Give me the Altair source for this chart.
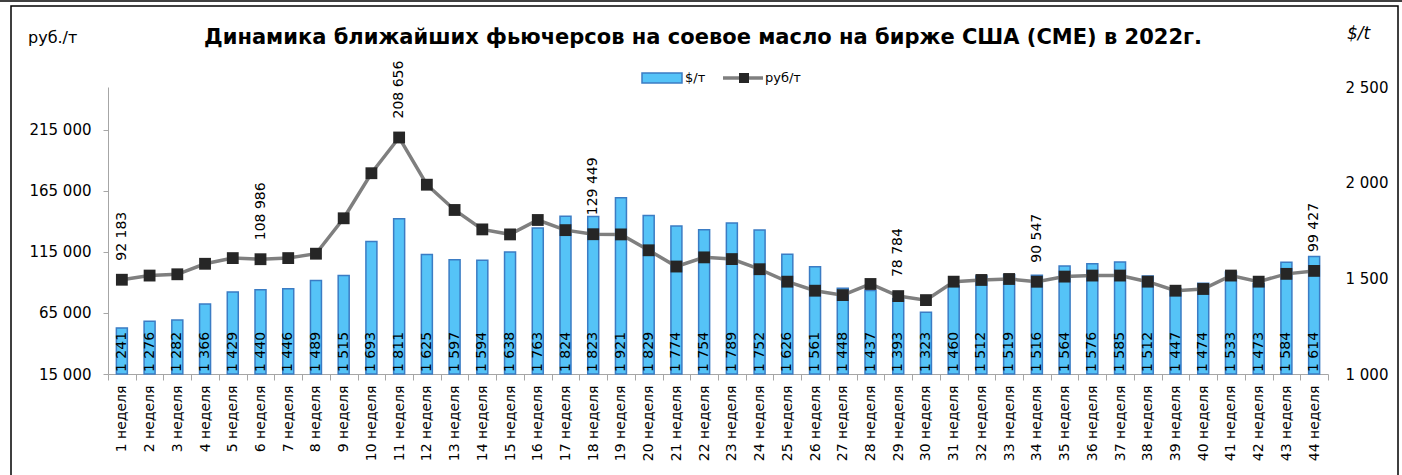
import altair as alt
import pandas as pd

weeks = [f"{i} неделя" for i in range(1, 45)]
usd = [1241, 1276, 1282, 1366, 1429, 1440, 1446, 1489, 1515, 1693, 1811, 1625, 1597, 1594,
       1638, 1763, 1824, 1823, 1921, 1829, 1774, 1754, 1789, 1752, 1626, 1561, 1448, 1437,
       1393, 1323, 1460, 1512, 1519, 1516, 1564, 1576, 1585, 1512, 1447, 1474, 1533, 1473,
       1584, 1614]
rub = [92183, 95600, 96650, 105250, 109900, 108986, 109900, 113500, 142500, 179400, 208656,
       170000, 149300, 133400, 129300, 141100, 132800, 129449, 129300, 116300, 103000, 110500,
       109100, 100800, 90600, 83200, 79600, 88700, 78784, 75500, 90600, 92000, 92800, 90547,
       94750, 95600, 95600, 90600, 83200, 84600, 95600, 90600, 97000, 99427]
rub_labeled = [1, 6, 11, 18, 29, 34, 44]
left_ticks = [15000, 65000, 115000, 165000, 215000]
right_ticks = [1000, 1500, 2000, 2500]
title_text = "Динамика ближайших фьючерсов на соевое масло на бирже США (CME) в 2022г."

df = pd.DataFrame({
    "week": weeks,
    "n": list(range(1, 45)),
    "usd": usd,
    "rub": rub,
})
df["usd_lbl"] = [f"{v:,}".replace(",", " ") for v in usd]
df["rub_lbl"] = [f"{v:,}".replace(",", " ") for v in rub]

W, H = 1220, 287
PL, PT = 108, 87
BAR_FILL = "#55C3F7"
BAR_STROKE = "#3B7CC4"
LINE_COLOR = "#7F7F7F"
MARK_COLOR = "#262626"
FONT = "DejaVu Sans"
fmt_expr = "replace(format(datum.value, ','), ',', ' ')"

xenc = alt.X("week:N", sort=weeks,
             scale=alt.Scale(type="band", paddingInner=0, paddingOuter=0),
             axis=alt.Axis(title=None, labelAngle=270, labelFontSize=14, labelColor="#000000",
                           labelFont=FONT, tickBand="extent", tickSize=6, tickColor="#A6A6A6",
                           domainColor="#A6A6A6", labelPadding=5, grid=False))
xenc_plain = alt.X("week:N", sort=weeks,
                   scale=alt.Scale(type="band", paddingInner=0, paddingOuter=0))

rdom = alt.Scale(domain=[1000, 2500], nice=False, zero=False)
ldom = alt.Scale(domain=[15000, 250000], nice=False, zero=False)

base = alt.Chart(df)

bars = base.mark_bar(size=11, fill=BAR_FILL, stroke=BAR_STROKE, strokeWidth=1.5).encode(
    x=xenc,
    y=alt.Y("usd:Q", scale=rdom,
            axis=alt.Axis(orient="right", title=None, values=right_ticks, labelExpr=fmt_expr,
                          domain=False, ticks=False, labelPadding=17, labelFontSize=15,
                          labelColor="#000000", labelFont=FONT, grid=False, labelAlign="left")),
    y2=alt.datum(1000),
)

bar_labels = base.mark_text(angle=270, align="left", baseline="middle", dx=2, fontSize=14,
                            font=FONT, color="#000000").encode(
    x=xenc_plain,
    y=alt.value(H),
    text="usd_lbl:N",
)

line = base.mark_line(color=LINE_COLOR, strokeWidth=3.5).encode(
    x=xenc_plain,
    y=alt.Y("rub:Q", scale=ldom,
            axis=alt.Axis(orient="left", title=None, values=left_ticks, labelExpr=fmt_expr,
                          tickSize=5, tickColor="#A6A6A6", domainColor="#A6A6A6",
                          labelPadding=12, labelFontSize=15, labelColor="#000000",
                          labelFont=FONT, grid=False)),
)

points = base.mark_point(shape="square", filled=True, size=140, color=MARK_COLOR, opacity=1).encode(
    x=xenc_plain,
    y=alt.Y("rub:Q", scale=ldom, axis=None),
)

line_labels = base.transform_filter(
    alt.FieldOneOfPredicate(field="n", oneOf=rub_labeled)
).mark_text(angle=270, align="left", baseline="middle", dx=19, fontSize=14, font=FONT,
            color="#000000").encode(
    x=xenc_plain,
    y=alt.Y("rub:Q", scale=ldom, axis=None),
    text="rub_lbl:N",
)

one = pd.DataFrame({"k": [0]})
deco = alt.Chart(one)

border = deco.mark_rect(fillOpacity=0, stroke="#000000", strokeWidth=1.5).encode(
    x=alt.value(11 - PL), x2=alt.value(1398 - PL),
    y=alt.value(6 - PT), y2=alt.value(490 - PT),
)
top_line = deco.mark_rule(color="#000000", strokeWidth=1.5).encode(
    x=alt.value(0 - PL), x2=alt.value(1402 - PL), y=alt.value(1 - PT),
)

title = deco.mark_text(fontSize=21, fontWeight="bold", font=FONT, align="center",
                       baseline="middle", color="#000000").encode(
    x=alt.value(703 - PL), y=alt.value(38 - PT), text=alt.value(title_text))
left_unit = deco.mark_text(fontSize=16, font=FONT, align="left", baseline="middle",
                           color="#000000").encode(
    x=alt.value(28 - PL), y=alt.value(38 - PT), text=alt.value("руб./т"))
right_unit = deco.mark_text(fontSize=17, font=FONT, fontStyle="italic", align="left",
                            baseline="middle", color="#000000").encode(
    x=alt.value(1347 - PL), y=alt.value(34 - PT), text=alt.value("$/t"))

leg_swatch = deco.mark_rect(fill=BAR_FILL, stroke=BAR_STROKE, strokeWidth=1.5).encode(
    x=alt.value(642 - PL), x2=alt.value(682 - PL), y=alt.value(73 - PT), y2=alt.value(83 - PT))
leg_t1 = deco.mark_text(fontSize=13, font=FONT, align="left", baseline="middle",
                        color="#000000").encode(
    x=alt.value(685 - PL), y=alt.value(78 - PT), text=alt.value("$/т"))
leg_line = deco.mark_rule(color=LINE_COLOR, strokeWidth=3.5).encode(
    x=alt.value(723 - PL), x2=alt.value(763 - PL), y=alt.value(78 - PT))
leg_pt = deco.mark_point(shape="square", filled=True, size=100, color=MARK_COLOR,
                         opacity=1).encode(x=alt.value(744 - PL), y=alt.value(78 - PT))
leg_t2 = deco.mark_text(fontSize=13, font=FONT, align="left", baseline="middle",
                        color="#000000").encode(
    x=alt.value(765 - PL), y=alt.value(78 - PT), text=alt.value("руб/т"))

chart = alt.layer(
    bars, bar_labels, line, points, line_labels,
    border, top_line, title, left_unit, right_unit,
    leg_swatch, leg_t1, leg_line, leg_pt, leg_t2,
).resolve_scale(y="independent").properties(
    width=W, height=H,
    autosize=alt.AutoSizeParams(type="none"),
    padding={"left": PL, "top": PT, "right": 1402 - PL - W, "bottom": 475 - PT - H},
    background="#FFFFFF",
).configure_view(stroke=None)

chart.save("out.html", embed_options={"renderer": "svg", "actions": False})
